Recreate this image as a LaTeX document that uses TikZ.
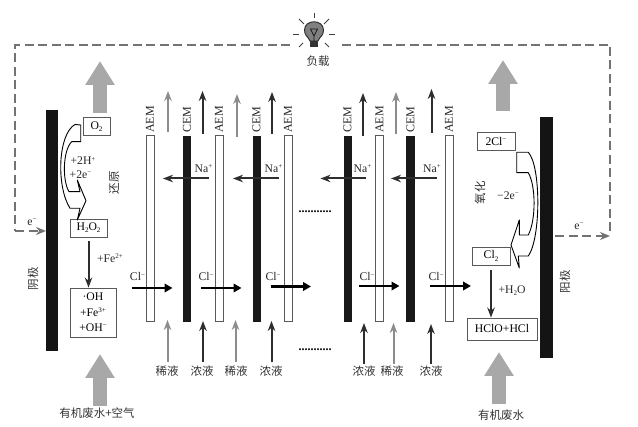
\documentclass[tikz,border=0pt]{standalone}
\usepackage{fontspec}
\setmainfont{Liberation Serif}
\newfontfamily\cjk{Noto Sans CJK SC}
\usetikzlibrary{arrows.meta}
\definecolor{inkdark}{gray}{0.18}
\definecolor{inkgray}{gray}{0.55}
\definecolor{blockgray}{gray}{0.66}
\definecolor{wiregray}{gray}{0.45}
\newcommand{\chemup}[1]{\raisebox{0.72ex}{\fontsize{7}{8}\selectfont #1}}
\newcommand{\chemdn}[1]{\raisebox{-0.4ex}{\fontsize{7}{8}\selectfont #1}}
\tikzset{
	electrode/.style={draw=none, fill=black!92, inner sep=0pt, minimum width=#1},
	cembar/.style={draw=none, fill=black!90, inner sep=0pt, minimum width=8pt, minimum height=186pt},
	aembar/.style={draw=black!65, line width=1pt, fill=white, inner sep=0pt, minimum width=8pt, minimum height=186pt},
	chembox/.style={draw=black!65, line width=0.9pt, fill=white, inner sep=0pt, align=center, font=\fontsize{11.7}{15.5}\selectfont},
	memlabel/.style={rotate=90, inner sep=0pt, text=black!85, font=\fontsize{12}{13}\selectfont},
	txt/.style={inner sep=0pt, text=black!85, font=\fontsize{11.7}{13}\selectfont},
	cjktxt/.style={inner sep=0pt, text=black!80, font=\fontsize{11.5}{13}\selectfont\cjk},
	dotrow/.style={inner sep=0pt, text=black, font=\bfseries\fontsize{12}{13}\selectfont},
	bigarr/.style={draw=blockgray, line width=14pt, -{Triangle[width=28pt,length=24pt]}},
	darkarr/.style={draw=inkdark, line width=2pt, -{Stealth[width=7.5pt,length=10pt]}},
	grayarr/.style={draw=inkgray, line width=2pt, -{Stealth[width=7.5pt,length=10pt]}},
	clarr/.style={draw=black, line width=2.6pt, -{Triangle[width=8.5pt,length=8pt]}},
	wire/.style={draw=wiregray, line width=2pt, dash pattern=on 9pt off 4.5pt},
	wirearr/.style={wire, -{Stealth[width=8pt,length=10pt]}},
	ray/.style={draw=black!75, line width=0.8pt},
	bendarr/.style={draw=black, line width=0.9pt, fill=white, line join=round},
}
\begin{document}
\begin{tikzpicture}[x=1pt, y=-1pt]
	\useasboundingbox (0,0) rectangle (638,427);
	% electrodes
	\node[electrode=12pt, minimum height=241pt] (cathode) at (52,230.5) {};
	\node[electrode=13pt, minimum height=241pt] (anode) at (546.5,237.5) {};
	\node[cjktxt, rotate=90] (cathodetxt) at (33,279) {阴极};
	\node[cjktxt, rotate=90] (anodetxt) at (565,282) {阳极};
	% membranes
	\node[aembar] (m1) at (150,229) {};
	\node[cembar] (m2) at (187,229) {};
	\node[aembar] (m3) at (219,229) {};
	\node[cembar] (m4) at (256.5,229) {};
	\node[aembar] (m5) at (288,229) {};
	\node[cembar] (m6) at (347.5,229) {};
	\node[aembar] (m7) at (379.5,229) {};
	\node[cembar, minimum width=9pt] (m8) at (410.5,229) {};
	\node[aembar] (m9) at (449,229) {};
	\node[memlabel] (m1txt) at (150,119.5) {AEM};
	\node[memlabel] (m2txt) at (187,119.5) {CEM};
	\node[memlabel] (m3txt) at (219,119.5) {AEM};
	\node[memlabel] (m4txt) at (256.5,119.5) {CEM};
	\node[memlabel] (m5txt) at (288,119.5) {AEM};
	\node[memlabel] (m6txt) at (347.5,119.5) {CEM};
	\node[memlabel] (m7txt) at (379.5,119.5) {AEM};
	\node[memlabel] (m8txt) at (410.5,119.5) {CEM};
	\node[memlabel] (m9txt) at (449,119.5) {AEM};
	% outflow above the stack
	\coordinate (o1a) at (168,132); \coordinate (o1b) at (168,91);
	\coordinate (o2a) at (202.5,134); \coordinate (o2b) at (202.5,91);
	\coordinate (o3a) at (237,137); \coordinate (o3b) at (237,94);
	\coordinate (o4a) at (272,134); \coordinate (o4b) at (272,92);
	\coordinate (o5a) at (363,136); \coordinate (o5b) at (363,93);
	\coordinate (o6a) at (396,134); \coordinate (o6b) at (396,92);
	\coordinate (o7a) at (431.5,133); \coordinate (o7b) at (431.5,89);
	\draw[grayarr] (o1a) -- (o1b);
	\draw[darkarr] (o2a) -- (o2b);
	\draw[grayarr] (o3a) -- (o3b);
	\draw[darkarr] (o4a) -- (o4b);
	\draw[darkarr] (o5a) -- (o5b);
	\draw[grayarr] (o6a) -- (o6b);
	\draw[darkarr] (o7a) -- (o7b);
	% feed below the stack
	\node[cjktxt] (f1) at (167,371) {稀液};
	\node[cjktxt] (f2) at (202,371) {浓液};
	\node[cjktxt] (f3) at (236,371) {稀液};
	\node[cjktxt] (f4) at (271,371) {浓液};
	\node[cjktxt] (f5) at (364,371) {浓液};
	\node[cjktxt] (f6) at (392,371) {稀液};
	\node[cjktxt] (f7) at (431,371) {浓液};
	\coordinate (f1a) at (167.5,362); \coordinate (f1b) at (167.5,320);
	\coordinate (f2a) at (203,362); \coordinate (f2b) at (203,321);
	\coordinate (f3a) at (235.5,362); \coordinate (f3b) at (235.5,320);
	\coordinate (f4a) at (271.5,362); \coordinate (f4b) at (271.5,321);
	\coordinate (f5a) at (364,364); \coordinate (f5b) at (364,323);
	\coordinate (f6a) at (393.5,364); \coordinate (f6b) at (393.5,323);
	\coordinate (f7a) at (431,364); \coordinate (f7b) at (431,324);
	\draw[grayarr] (f1a) -- (f1b);
	\draw[darkarr] (f2a) -- (f2b);
	\draw[grayarr] (f3a) -- (f3b);
	\draw[darkarr] (f4a) -- (f4b);
	\draw[darkarr] (f5a) -- (f5b);
	\draw[grayarr] (f6a) -- (f6b);
	\draw[darkarr] (f7a) -- (f7b);
	% sodium
	\coordinate (na1a) at (208.5,178.5); \coordinate (na1b) at (163,178.5);
	\coordinate (na2a) at (279,178.5); \coordinate (na2b) at (233,178.5);
	\coordinate (na3a) at (366,178.5); \coordinate (na3b) at (320.5,178.5);
	\coordinate (na4a) at (437,178.5); \coordinate (na4b) at (391,178.5);
	\draw[darkarr] (na1a) -- (na1b);
	\draw[darkarr] (na2a) -- (na2b);
	\draw[darkarr] (na3a) -- (na3b);
	\draw[darkarr] (na4a) -- (na4b);
	\node[txt] (na1) at (203.5,168.5) {Na\chemup{+}};
	\node[txt] (na2) at (273.5,168.5) {Na\chemup{+}};
	\node[txt] (na3) at (362.5,168.5) {Na\chemup{+}};
	\node[txt] (na4) at (432,168.5) {Na\chemup{+}};
	% chloride
	\coordinate (cl1a) at (132,288); \coordinate (cl1b) at (172.5,288);
	\coordinate (cl2a) at (201,288); \coordinate (cl2b) at (241.5,288);
	\coordinate (cl3a) at (270.5,286.5); \coordinate (cl3b) at (311,286.5);
	\coordinate (cl4a) at (359,286); \coordinate (cl4b) at (399.5,286);
	\coordinate (cl5a) at (430,286); \coordinate (cl5b) at (471,286);
	\draw[clarr] (cl1a) -- (cl1b);
	\draw[clarr] (cl2a) -- (cl2b);
	\draw[clarr] (cl3a) -- (cl3b);
	\draw[clarr] (cl4a) -- (cl4b);
	\draw[clarr] (cl5a) -- (cl5b);
	\node[txt] (cl1) at (137.5,277) {Cl\chemup{−}};
	\node[txt] (cl2) at (206,277) {Cl\chemup{−}};
	\node[txt] (cl3) at (273,277) {Cl\chemup{−}};
	\node[txt] (cl4) at (367,277) {Cl\chemup{−}};
	\node[txt] (cl5) at (436,277) {Cl\chemup{−}};
	\node[dotrow] (dotsup) at (315,212) {...........};
	\node[dotrow] (dotslow) at (315,350) {...........};
	% cathode side
	\node[chembox, minimum width=27pt, minimum height=18pt] (otwo) at (96.5,126.5) {O\chemdn{2}};
	\node[chembox, minimum width=37pt, minimum height=18pt] (hoo) at (88.5,228) {H\chemdn{2}O\chemdn{2}};
	\node[chembox, minimum width=46pt, minimum height=49pt] (oh) at (93,312.5) {·OH\\+Fe\chemup{3+}\\+OH\chemup{−}};
	\draw[bendarr] (80.7,125) -- (75,124.5) .. controls (58,134) and (56,186) .. (70,208.3) -- (80,208.3) -- (77.3,220) -- (86,200.7) -- (77.3,180) -- (80,191.7) -- (69,191.7) .. controls (62,180) and (63,150) .. (71.7,141.7) -- (80.7,141.7) -- cycle;
	\node[txt] (twoh) at (83,161) {+2H\chemup{+}};
	\node[txt] (twoe) at (80.5,175) {+2e\chemup{−}};
	\node[cjktxt, rotate=90] (redtxt) at (114,183) {还原};
	\draw[darkarr, shorten <=4pt] (hoo) -- (hoo |- oh.north);
	\node[txt] (fetwo) at (110,258) {+Fe\chemup{2+}};
	% anode side
	\node[chembox, minimum width=38pt, minimum height=18pt] (twocl) at (496,141.5) {2Cl\chemup{−}};
	\node[chembox, minimum width=38pt, minimum height=18pt] (cltwo) at (491,256) {Cl\chemdn{2}};
	\node[chembox, minimum width=70pt, minimum height=22pt] (hclo) at (502,329) {HClO+HCl};
	\draw[bendarr] (516.7,152.3) -- (528.3,152.3) .. controls (541,166) and (541,238) .. (528.3,256) -- (518.3,256) -- (519.3,268) -- (511,245) -- (519.3,220) -- (519.3,235) -- (528.3,235) .. controls (536,220) and (536,186) .. (528.3,172.7) -- (516.7,172.7) -- cycle;
	\node[cjktxt, rotate=90] (oxtxt) at (480,193) {氧化};
	\node[txt] (twoem) at (508,196) {−2e\chemup{−}};
	\draw[darkarr, shorten <=5pt] (cltwo) -- (cltwo |- hclo.north);
	\node[txt] (water) at (512,291) {+H\chemdn{2}O};
	% process streams
	\coordinate (ul) at (100,113); \coordinate (ult) at (100,61);
	\coordinate (ur) at (503,111); \coordinate (urt) at (503,60);
	\coordinate (ll) at (100,406); \coordinate (llt) at (100,354);
	\coordinate (lr) at (499,404); \coordinate (lrt) at (499,352);
	\draw[bigarr] (ul) -- (ult);
	\draw[bigarr] (ur) -- (urt);
	\draw[bigarr] (ll) -- (llt);
	\draw[bigarr] (lr) -- (lrt);
	\node[cjktxt] (feedl) at (97,413.5) {有机废水+空气};
	\node[cjktxt] (feedr) at (501,415) {有机废水};
	% external circuit
	\coordinate (wl) at (15,45); \coordinate (wlb) at (15,231);
	\coordinate (wr) at (610,45); \coordinate (wrb) at (610,236);
	\coordinate (wanode) at (555,236);
	\coordinate (wcathode) at (46,231);
	\coordinate (bulbl) at (290,45); \coordinate (bulbr) at (342,45);
	\draw[wire] (bulbr) -- (wr) -- (wrb);
	\draw[wirearr] (wanode) -- (wrb);
	\draw[wire] (bulbl) -- (wl) -- (wlb);
	\draw[wirearr] (wlb) -- (wcathode);
	\node[txt] (eleft) at (32,222) {e\chemup{−}};
	\node[txt] (eright) at (579,226) {e\chemup{−}};
	% lamp
	\draw[black!85, line width=0.9pt, fill=black!50] (310,41) .. controls (308,36) and (304.5,36) .. (304.5,30) .. controls (304.5,19) and (323.5,19) .. (323.5,30) .. controls (323.5,36) and (320,36) .. (318,41) -- cycle;
	\draw[black!90, line width=0.8pt] (310.5,29) -- (317.5,29) -- (314,36) -- cycle (314,36) -- (314,41);
	\fill[black!80] (310,41) rectangle (318,47);
	\draw[ray] (314,13) -- (314,18);
	\draw[ray] (299,19) -- (304,24);
	\draw[ray] (329,19) -- (324,24);
	\draw[ray] (293,34) -- (299,34);
	\draw[ray] (329,34) -- (335,34);
	\draw[ray] (299,47) -- (303,43);
	\draw[ray] (329,47) -- (325,43);
	\node[cjktxt] (load) at (318,61) {负载};
\end{tikzpicture}
\end{document}
